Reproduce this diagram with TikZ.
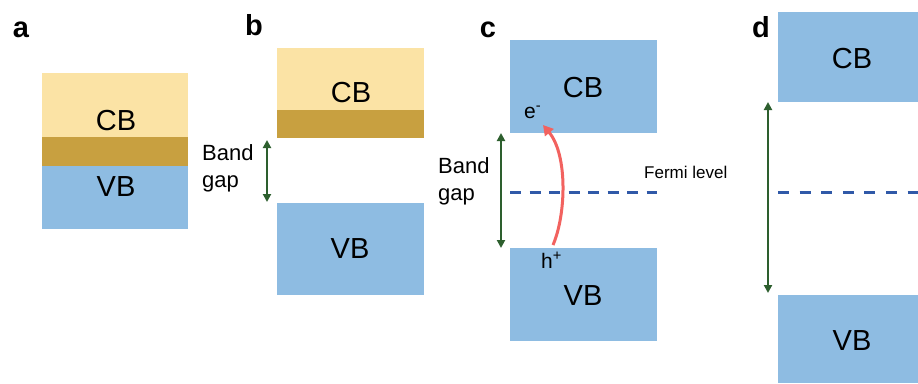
\documentclass[tikz,border=0pt]{standalone}
\usepackage{fontspec}
\setmainfont{Liberation Sans}
\usetikzlibrary{arrows.meta}

\definecolor{cbyellow}{HTML}{FBE3A5}
\definecolor{gapbrown}{HTML}{C8A040}
\definecolor{bandblue}{HTML}{8EBCE2}
\definecolor{gapgreen}{HTML}{2D5F2E}
\definecolor{fermiblue}{HTML}{3059A8}
\definecolor{excitered}{HTML}{F2625F}

\tikzset{
  band/.style={rectangle, draw=none, inner sep=0pt, anchor=north west},
  bandtext/.style={inner sep=0pt, font=\fontsize{29}{29}\selectfont},
  panel/.style={inner sep=0pt, anchor=base, font=\fontsize{29}{29}\selectfont\bfseries},
  gaptext/.style={inner sep=0pt, anchor=north west, align=left, font=\fontsize{22}{27}\selectfont},
  gaparrow/.style={gapgreen, line width=2.2pt, {Triangle[length=8pt,width=8pt]}-{Triangle[length=8pt,width=8pt]}},
  fermi/.style={fermiblue, line width=3pt},
  carrier/.style={inner sep=0pt, anchor=base west, font=\fontsize{21}{21}\selectfont}
}

\begin{document}
\begin{tikzpicture}[x=1pt, y=-1pt]
  \useasboundingbox[fill=white] (0,0) rectangle (918,383);

  % panel letters
  \node[panel] (la) at (21,37) {a};
  \node[panel] (lb) at (254,35) {b};
  \node[panel] (lc) at (488,37) {c};
  \node[panel] (ld) at (761,37) {d};

  % (a) overlapping bands
  \node[band, fill=cbyellow, minimum width=146pt, minimum height=64pt] (acb) at (42,73) {};
  \node[band, fill=gapbrown, minimum width=146pt, minimum height=29pt] (amid) at (42,137) {};
  \node[band, fill=bandblue, minimum width=146pt, minimum height=63pt] (avb) at (42,166) {};
  \node[bandtext] (acbt) at (116,121) {CB};
  \node[bandtext] (avbt) at (116,187) {VB};

  % (b) separated bands
  \node[band, fill=cbyellow, minimum width=147pt, minimum height=62pt] (bcb) at (277,48) {};
  \node[band, fill=gapbrown, minimum width=147pt, minimum height=28pt] (bmid) at (277,110) {};
  \node[band, fill=bandblue, minimum width=147pt, minimum height=92pt] (bvb) at (277,203) {};
  \node[bandtext] (bcbt) at (351,93) {CB};
  \node[bandtext] (bvbt) at (350,249) {VB};
  \node[gaptext] (bgap) at (202,144) {Band\\gap};
  \coordinate (btop) at (267,140);
  \coordinate (bbot) at (267,202);
  \draw[gaparrow] (btop) -- (bbot);

  % (c) semiconductor with excitation
  \node[band, fill=bandblue, minimum width=147pt, minimum height=93pt] (ccb) at (510,40) {};
  \node[band, fill=bandblue, minimum width=147pt, minimum height=93pt] (cvb) at (510,248) {};
  \node[bandtext] (ccbt) at (583,88) {CB};
  \node[bandtext] (cvbt) at (583,296) {VB};
  \node[gaptext] (cgap) at (438,157) {Band\\gap};
  \coordinate (ctop) at (501,133);
  \coordinate (cbot) at (501,248);
  \draw[gaparrow] (ctop) -- (cbot);
  \draw[fermi, dash pattern=on 11pt off 8.5pt]
    (ccb.west |- 0,192) coordinate (cf1) -- (ccb.east |- 0,192) coordinate (cf2);
  \node[inner sep=0pt, anchor=base west, font=\fontsize{17}{17}\selectfont] (fermitext) at (644,178) {Fermi level};
  \node[carrier] (elec) at (524,118) {e\textsuperscript{-}};
  \node[carrier] (hole) at (541,268) {h\textsuperscript{+}};
  \coordinate (hstart) at (553,245);
  \coordinate (eend) at (543,125);
  \draw[excitered, line width=3pt, -{Triangle[length=10pt,width=11pt]}]
    (hstart) .. controls (566,215) and (568,155) .. (eend);

  % (d) insulator with a wide gap
  \node[band, fill=bandblue, minimum width=140pt, minimum height=90pt] (dcb) at (778,12) {};
  \node[band, fill=bandblue, minimum width=140pt, minimum height=88pt] (dvb) at (778,295) {};
  \node[bandtext] (dcbt) at (852,59) {CB};
  \node[bandtext] (dvbt) at (852,341) {VB};
  \coordinate (dtop) at (768,102);
  \coordinate (dbot) at (768,293);
  \draw[gaparrow] (dtop) -- (dbot);
  \draw[fermi, dash pattern=on 11pt off 10.6pt]
    (dcb.west |- 0,192) coordinate (df1) -- (922,192) coordinate (df2);
\end{tikzpicture}
\end{document}
